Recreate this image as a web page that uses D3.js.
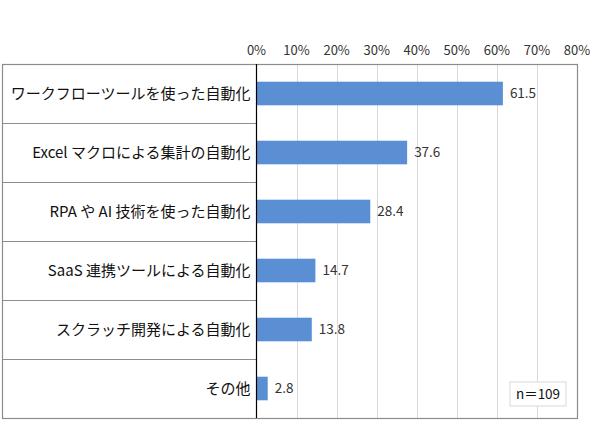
<!doctype html>
<html>
<head>
<meta charset="utf-8">
<script src="https://cdn.jsdelivr.net/npm/d3@7"></script>
<style>
  body { margin: 0; background: #fff; }
  svg { display: block; font-family: "Noto Sans CJK JP", "Noto Sans", sans-serif; }
</style>
</head>
<body>
<script>
const categories = [
  "ワークフローツールを使った自動化",
  "Excel マクロによる集計の自動化",
  "RPA や AI 技術を使った自動化",
  "SaaS 連携ツールによる自動化",
  "スクラッチ開発による自動化",
  "その他"
];
const values = [61.5, 37.6, 28.4, 14.7, 13.8, 2.8];
const ticks = [0, 10, 20, 30, 40, 50, 60, 70, 80];
const note = "n＝109";

const width = 590, height = 428;
const frameLeft = 2, axisX = 256.5, frameRight = 577, frameTop = 64, frameBottom = 418;

const x = d3.scaleLinear().domain([0, 80]).range([axisX, frameRight]);
const y = d3.scaleBand().domain(categories).range([frameTop, frameBottom]).paddingInner(0.6).paddingOuter(0.3);
const rows = d3.scaleBand().domain(categories).range([frameTop, frameBottom]);

const svg = d3.select("body").append("svg")
    .attr("width", width)
    .attr("height", height);

// gridlines
svg.append("g")
  .selectAll("line")
  .data(ticks.slice(1, -1))
  .join("line")
    .attr("x1", d => Math.round(x(d)) + 0.5)
    .attr("x2", d => Math.round(x(d)) + 0.5)
    .attr("y1", frameTop)
    .attr("y2", frameBottom)
    .attr("stroke", "#d9d9d9");

// tick labels on top
svg.append("g")
  .selectAll("text")
  .data(ticks)
  .join("text")
    .attr("x", d => x(d))
    .attr("y", 55)
    .attr("text-anchor", "middle")
    .attr("font-size", 13)
    .attr("fill", "#333")
    .text(d => d + "%");

// row separators in label area
svg.append("g")
  .selectAll("line")
  .data(categories.slice(1))
  .join("line")
    .attr("x1", frameLeft)
    .attr("x2", axisX)
    .attr("y1", d => Math.round(rows(d)) + 0.5)
    .attr("y2", d => Math.round(rows(d)) + 0.5)
    .attr("stroke", "#8c8c8c")
    .attr("stroke-width", 1.2);

// outer frame
svg.append("rect")
    .attr("x", frameLeft + 0.5)
    .attr("y", frameTop + 0.5)
    .attr("width", frameRight - frameLeft)
    .attr("height", frameBottom - frameTop)
    .attr("fill", "none")
    .attr("stroke", "#8c8c8c")
    .attr("stroke-width", 1.2);

// bars
svg.append("g")
  .selectAll("rect")
  .data(values)
  .join("rect")
    .attr("x", x(0))
    .attr("y", (d, i) => y(categories[i]))
    .attr("width", d => x(d) - x(0))
    .attr("height", y.bandwidth())
    .attr("fill", "#5b8fd3");

// value labels
svg.append("g")
  .selectAll("text")
  .data(values)
  .join("text")
    .attr("x", d => x(d) + 7)
    .attr("y", (d, i) => y(categories[i]) + y.bandwidth() / 2)
    .attr("dy", "0.36em")
    .attr("font-size", 13.5)
    .attr("fill", "#333")
    .text(d => d.toFixed(1));

// category labels
svg.append("g")
  .selectAll("text")
  .data(categories)
  .join("text")
    .attr("x", axisX - 6)
    .attr("y", d => rows(d) + rows.bandwidth() / 2)
    .attr("dy", "0.36em")
    .attr("text-anchor", "end")
    .attr("font-size", 15)
    .attr("fill", "#111")
    .text(d => d);

// category axis line
svg.append("line")
    .attr("x1", axisX)
    .attr("x2", axisX)
    .attr("y1", frameTop)
    .attr("y2", frameBottom)
    .attr("stroke", "#000")
    .attr("stroke-width", 1.2);

// n label
const nb = svg.append("g").attr("transform", "translate(510,382)");
nb.append("rect")
    .attr("width", 56)
    .attr("height", 24)
    .attr("fill", "#fff")
    .attr("stroke", "#d9d9d9");
nb.append("text")
    .attr("x", 28)
    .attr("y", 12)
    .attr("dy", "0.36em")
    .attr("text-anchor", "middle")
    .attr("font-size", 13.5)
    .attr("fill", "#111")
    .text(note);
</script>
</body>
</html>
